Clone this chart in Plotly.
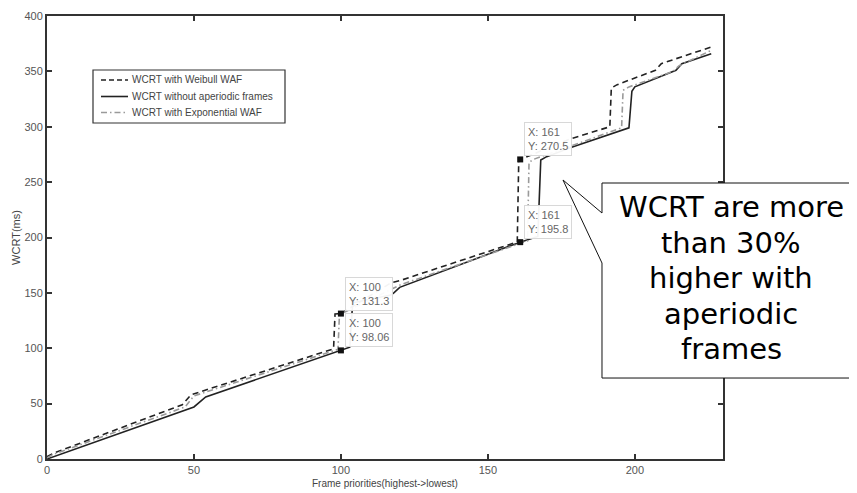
import plotly.graph_objects as go

# ---- data ----
weibull_x = [0, 2, 46, 49, 97.5, 98, 100, 117, 120, 160, 160.5, 161, 178, 191.5, 192, 194, 207, 209, 226]
weibull_y = [2, 5, 49, 58, 99.5, 131, 131.3, 159, 161, 196, 269, 270.5, 289, 300, 335, 338, 351, 357, 372]

noaper_x = [0, 48, 50, 54, 100, 103, 104, 117, 118, 120, 161, 167, 168, 170, 178, 198, 199, 200, 214, 216, 226]
noaper_y = [0, 45, 47, 56, 98.06, 101, 141, 148, 150, 155, 195.8, 201, 270, 273, 281, 299, 332, 336, 351, 357, 366]

expo_x = [0, 2, 47, 50, 99, 99.5, 100, 117, 120, 163.5, 164, 166, 195.5, 196, 198, 213, 215, 226]
expo_y = [1, 4, 47, 57, 99, 130, 131, 153, 157, 197, 268, 271, 299, 333, 336, 350, 355, 369]

series_names = ["WCRT with Weibull WAF", "WCRT without aperiodic frames", "WCRT with Exponential WAF"]

tip_x = [100, 100, 161, 161]
tip_y = [131.3, 98.06, 270.5, 195.8]
tip_labels = ["X: 100<br>Y: 131.3", "X: 100<br>Y: 98.06", "X: 161<br>Y: 270.5", "X: 161<br>Y: 195.8"]

x_ticks = [0, 50, 100, 150, 200]
y_ticks = [0, 50, 100, 150, 200, 250, 300, 350, 400]

callout_lines = ["WCRT are more", "than 30%", "higher with", "aperiodic", "frames"]

# ---- layout geometry (page pixels; the page body has an 8px margin) ----
OFF = 8
W, H = 857 - OFF, 493 - OFF
L, R, T, B = 47, 723, 16, 459  # plot area in page pixels


def px(xp):
    return (xp - L) / (R - L)


def py(yp):
    return (B - yp) / (B - T)


styles = [
    dict(color="#222222", width=1.6, dash="6px,4px"),
    dict(color="#222222", width=1.6),
    dict(color="#9a9a9a", width=1.6, dash="6px,3px,1.5px,3px"),
]

fig = go.Figure()
for xs, ys, nm, st in zip([weibull_x, noaper_x, expo_x], [weibull_y, noaper_y, expo_y], series_names, styles):
    fig.add_trace(go.Scatter(x=xs, y=ys, mode="lines", name=nm, line=st, showlegend=False))
fig.add_trace(go.Scatter(x=tip_x, y=tip_y, mode="markers", showlegend=False,
                         marker=dict(symbol="square", size=6, color="#111111")))

annotations = []
shapes = []

# data tips
for tx, ty, tl in zip(tip_x, tip_y, tip_labels):
    annotations.append(dict(x=tx, y=ty, xref="x", yref="y", text=tl, showarrow=False,
                            xanchor="left", yanchor="bottom", xshift=4, yshift=3, align="left",
                            font=dict(family="Arial, Liberation Sans", size=11, color="#666666"),
                            bgcolor="rgba(255,255,255,0.95)", bordercolor="#d8d8d8",
                            borderwidth=1, borderpad=3))

# legend drawn by hand (MATLAB style compact box)
shapes.append(dict(type="rect", xref="paper", yref="paper", x0=px(93), x1=px(285), y0=py(123), y1=py(70),
                   fillcolor="white", line=dict(color="#333333", width=1.2), layer="above"))
row_y = [80, 96.5, 112.5]
for ry, nm, st in zip(row_y, series_names, styles):
    ln = dict(color=st["color"], width=st["width"])
    if "dash" in st:
        ln["dash"] = st["dash"].replace("6px,4px", "5px,3px")
    shapes.append(dict(type="line", xref="paper", yref="paper", x0=px(101), x1=px(128), y0=py(ry), y1=py(ry),
                       line=ln, layer="above"))
    annotations.append(dict(x=px(130), y=py(ry), xref="paper", yref="paper", text=nm, showarrow=False,
                            xanchor="left", yanchor="middle",
                            font=dict(family="Arial, Liberation Sans", size=10, color="#444444")))

# callout box with pointer
pts = [(602, 183), (855, 183), (855, 378), (602, 378), (602, 263), (563, 180), (602, 213)]
path = "M " + " L ".join(f"{px(a):.4f},{py(b):.4f}" for a, b in pts) + " Z"
shapes.append(dict(type="path", xref="paper", yref="paper", path=path, layer="above",
                   fillcolor="white", line=dict(color="#111111", width=1)))

line_centers = [207, 243, 278, 314, 349]
for txt, cy in zip(callout_lines, line_centers):
    annotations.append(dict(x=px(731), y=py(cy), xref="paper", yref="paper", text=txt,
                            showarrow=False, xanchor="center", yanchor="middle",
                            font=dict(family="DejaVu Sans", size=29, color="#000000")))

# x axis title
annotations.append(dict(x=px((L + R) / 2), y=py(483), xref="paper", yref="paper",
                        text="Frame priorities(highest->lowest)", showarrow=False,
                        xanchor="center", yanchor="middle",
                        font=dict(family="Arial, Liberation Sans", size=10, color="#444444")))

fig.update_layout(
    width=W, height=H,
    margin=dict(l=L - OFF, r=W - (R - OFF), t=T - OFF, b=H - (B - OFF), autoexpand=False),
    paper_bgcolor="white", plot_bgcolor="white",
    font=dict(family="Arial, Liberation Sans", color="#555555", size=11),
    showlegend=False,
    shapes=shapes,
    annotations=annotations,
)

fig.update_xaxes(range=[0, 230], tickvals=x_ticks, ticks="inside", ticklen=5, tickwidth=1.5,
                 tickcolor="#333333", showline=True, linecolor="#333333", linewidth=2,
                 mirror="ticks", showgrid=False, zeroline=False, automargin=False,
                 tickfont=dict(size=11, color="#555555"))
fig.update_yaxes(range=[0, 400], tickvals=y_ticks, ticks="inside", ticklen=5, tickwidth=1.5,
                 tickcolor="#333333", showline=True, linecolor="#333333", linewidth=2,
                 mirror="ticks", showgrid=False, zeroline=False, automargin=False,
                 title=dict(text="WCRT(ms)", font=dict(size=11, color="#444444"), standoff=2),
                 tickfont=dict(size=11, color="#555555"))

fig.write_html("out.html")
